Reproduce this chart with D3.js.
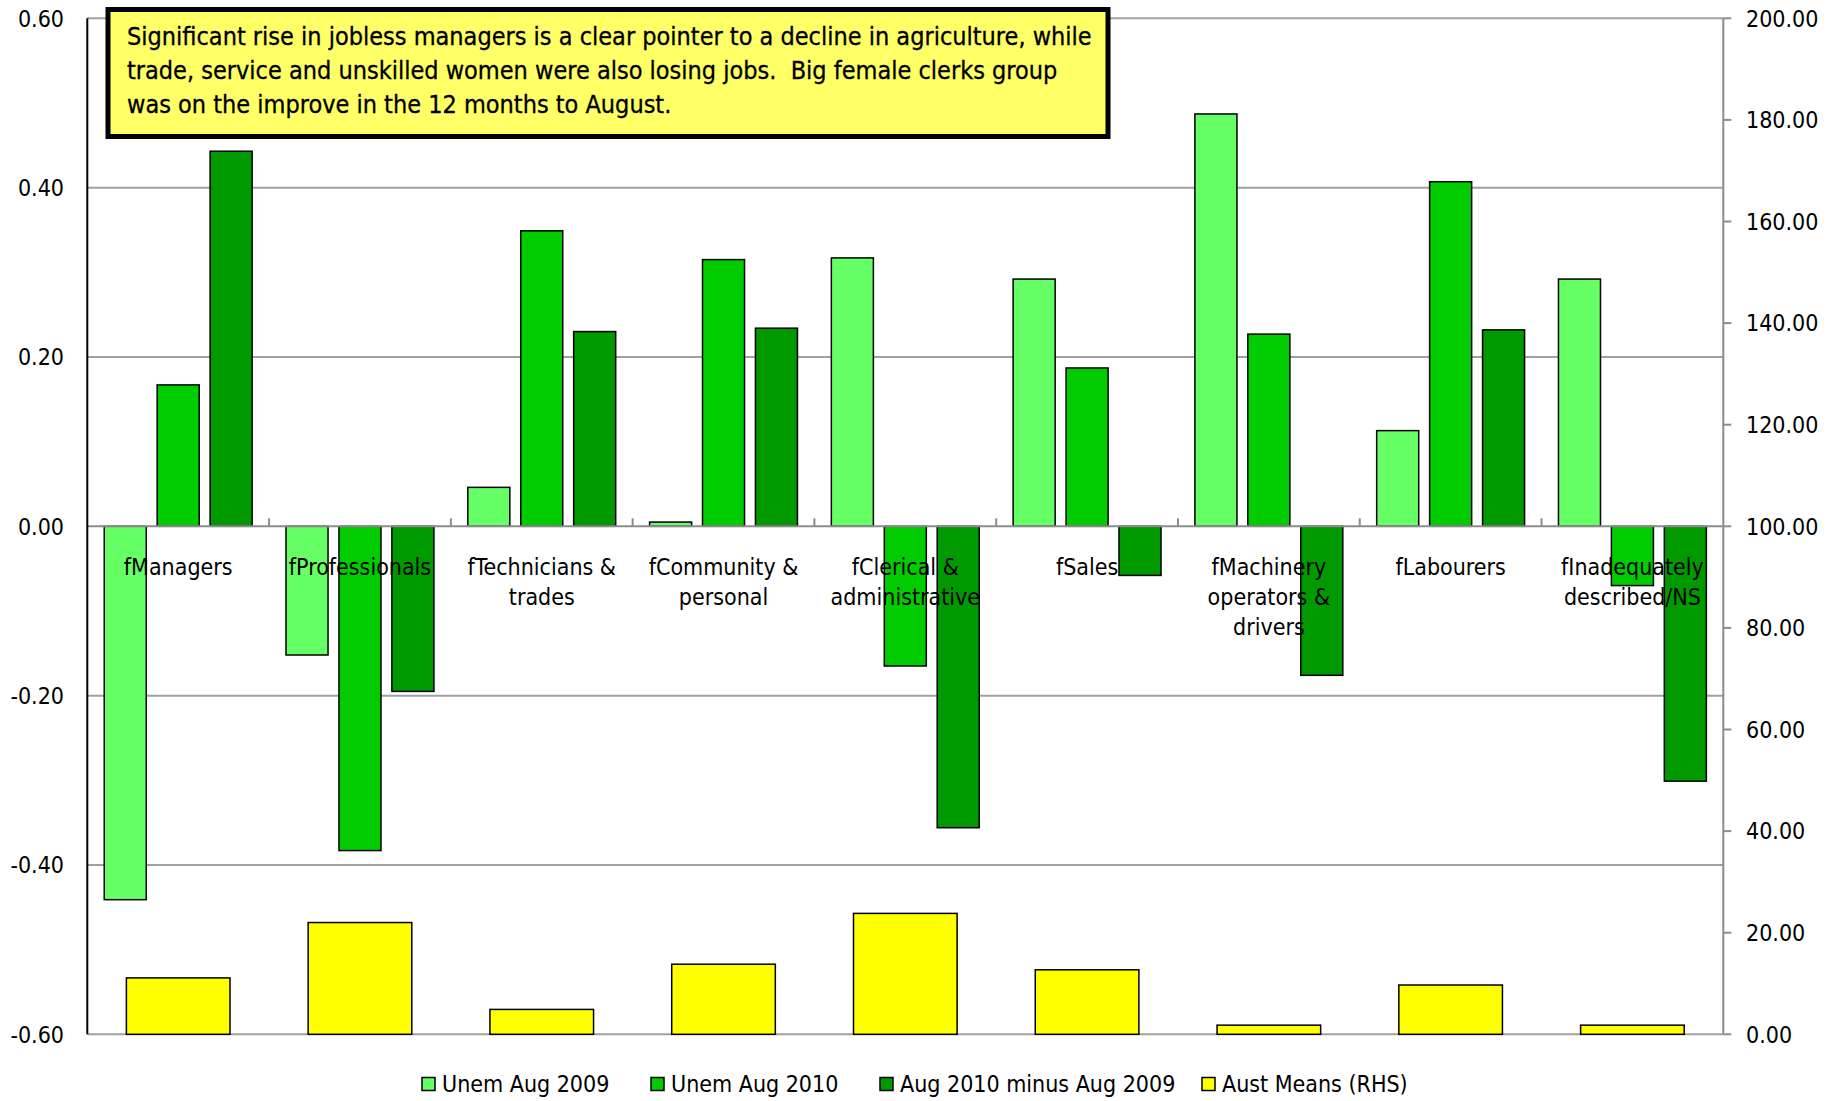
<!DOCTYPE html>
<html><head><meta charset="utf-8">
<script src="https://cdn.jsdelivr.net/npm/d3@7"></script>
<style>
body{margin:0;background:#fff}
text{font-family:"DejaVu Sans Condensed","DejaVu Sans",sans-serif;font-stretch:condensed;fill:#000}
</style>
</head><body><svg id="c" width="1834" height="1101"></svg>
<script>
const categories = ["fManagers","fProfessionals","fTechnicians & trades","fCommunity & personal","fClerical & administrative","fSales","fMachinery operators & drivers","fLabourers","fInadequately described/NS"];
const categoryLines = [["fManagers"],["fProfessionals"],["fTechnicians &","trades"],["fCommunity &","personal"],["fClerical &","administrative"],["fSales"],["fMachinery","operators &","drivers"],["fLabourers"],["fInadequately","described/NS"]];
const seriesNames = ["Unem Aug 2009","Unem Aug 2010","Aug 2010 minus Aug 2009","Aust Means (RHS)"];
const unem2009 = [-0.441,-0.152,0.046,0.005,0.317,0.292,0.487,0.113,0.292];
const unem2010 = [0.167,-0.383,0.349,0.315,-0.165,0.187,0.227,0.407,-0.070];
const diff2010minus2009 = [0.443,-0.195,0.230,0.234,-0.356,-0.058,-0.176,0.232,-0.301];
const austMeans = [11.1,22.0,4.9,13.8,23.8,12.7,1.8,9.7,1.8];
const leftTicks = [-0.6,-0.4,-0.2,0,0.2,0.4,0.6];
const rightTicks = [0,20,40,60,80,100,120,140,160,180,200];
const titleLines = ["Significant rise in jobless managers is a clear pointer to a decline in agriculture, while",
  "trade, service and unskilled women were also losing jobs.  Big female clerks group",
  "was on the improve in the 12 months to August."];
const colors = ["#66FF66","#00CC00","#009900","#FFFF00"];

const svg = d3.select("#c");
const L = 87.3, R = 1723.3, T = 18.3, B = 1034.3;
const y = d3.scaleLinear().domain([-0.6,0.6]).range([B,T]);
const y2 = d3.scaleLinear().domain([0,200]).range([B,T]);
const x0 = d3.scaleBand().domain(categories).range([L,R]).paddingInner(0).paddingOuter(0);
const x1 = d3.scaleBand().domain([0,1,2]).range([0,x0.bandwidth()]).paddingInner(0.206).paddingOuter(0.32);
const xY = d3.scaleBand().domain(categories).range([L,R]).paddingInner(0.43).paddingOuter(0.215);
const fmt = d3.formatLocale({decimal:".",thousands:",",grouping:[3],currency:["$",""],minus:"-"}).format(".2f");

// gridlines
svg.append("g").selectAll("line").data(leftTicks.filter(d=>d!==0)).join("line")
  .attr("x1",L).attr("x2",R).attr("y1",d=>y(d)).attr("y2",d=>y(d))
  .attr("stroke","#A0A0A0").attr("stroke-width",2);

// yellow bars (secondary axis)
svg.append("g").selectAll("rect").data(austMeans).join("rect")
  .attr("x",(d,i)=>xY(categories[i])).attr("width",xY.bandwidth())
  .attr("y",d=>y2(d)).attr("height",d=>y2(0)-y2(d))
  .attr("fill",colors[3]).attr("stroke","#000").attr("stroke-width",1.5);

// green bars
const series = [unem2009, unem2010, diff2010minus2009];
series.forEach((vals,s)=>{
  svg.append("g").selectAll("rect").data(vals).join("rect")
    .attr("x",(d,i)=>x0(categories[i])+x1(s)).attr("width",x1.bandwidth())
    .attr("y",d=>y(Math.max(0,d))).attr("height",d=>Math.abs(y(d)-y(0)))
    .attr("fill",colors[s]).attr("stroke","#000").attr("stroke-width",1.5);
});

// zero (category) axis
svg.append("line").attr("x1",L).attr("x2",R).attr("y1",y(0)).attr("y2",y(0))
  .attr("stroke","#8C8C8C").attr("stroke-width",2);
svg.append("g").selectAll("line").data(categories.slice(1)).join("line")
  .attr("x1",d=>x0(d)).attr("x2",d=>x0(d)).attr("y1",y(0)).attr("y2",y(0)-8)
  .attr("stroke","#8C8C8C").attr("stroke-width",2);

// left axis
svg.append("line").attr("x1",L).attr("x2",L).attr("y1",T).attr("y2",B).attr("stroke","#000").attr("stroke-width",2);
svg.append("g").selectAll("text").data(leftTicks).join("text")
  .attr("x",64).attr("y",d=>y(d)).attr("dy","0.36em").attr("text-anchor","end")
  .style("font-size","23px").text(d=>fmt(d));

// right axis
svg.append("line").attr("x1",R).attr("x2",R).attr("y1",T).attr("y2",B).attr("stroke","#8C8C8C").attr("stroke-width",2);
svg.append("g").selectAll("line").data(rightTicks).join("line")
  .attr("x1",R).attr("x2",R+8).attr("y1",d=>y2(d)).attr("y2",d=>y2(d))
  .attr("stroke","#8C8C8C").attr("stroke-width",2);
svg.append("g").selectAll("text").data(rightTicks).join("text")
  .attr("x",1746).attr("y",d=>y2(d)).attr("dy","0.36em").attr("text-anchor","start")
  .style("font-size","23px").text(d=>fmt(d));

// category labels
const cl = svg.append("g").selectAll("text").data(categoryLines).join("text")
  .attr("text-anchor","middle").style("font-size","23px")
  .attr("transform",(d,i)=>`translate(${x0(categories[i])+x0.bandwidth()/2},575)`);
cl.selectAll("tspan").data(d=>d).join("tspan").attr("x",0).attr("y",(d,j)=>j*30).text(d=>d);

// title box
svg.append("rect").attr("x",108).attr("y",9.5).attr("width",1000).attr("height",127)
  .attr("fill","#FFFF66").attr("stroke","#000").attr("stroke-width",5);
svg.append("g").selectAll("text").data(titleLines).join("text")
  .attr("x",127).attr("y",(d,i)=>45+i*34).style("font-size","25px")
  .style("white-space","pre").attr("xml:space","preserve")
  .style("stroke","#000").style("stroke-width","0.3px").text(d=>d);

// legend
const legX = [422,651,880,1202];
const lg = svg.append("g").selectAll("g").data(seriesNames).join("g")
  .attr("transform",(d,i)=>`translate(${legX[i]},1084)`);
lg.append("rect").attr("x",0).attr("y",-6.5).attr("width",13).attr("height",13)
  .attr("fill",(d,i)=>colors[i]).attr("stroke","#000").attr("stroke-width",1.5);
lg.append("text").attr("x",20).attr("dy","0.36em").style("font-size","23px").text(d=>d);
</script>
</body></html>
